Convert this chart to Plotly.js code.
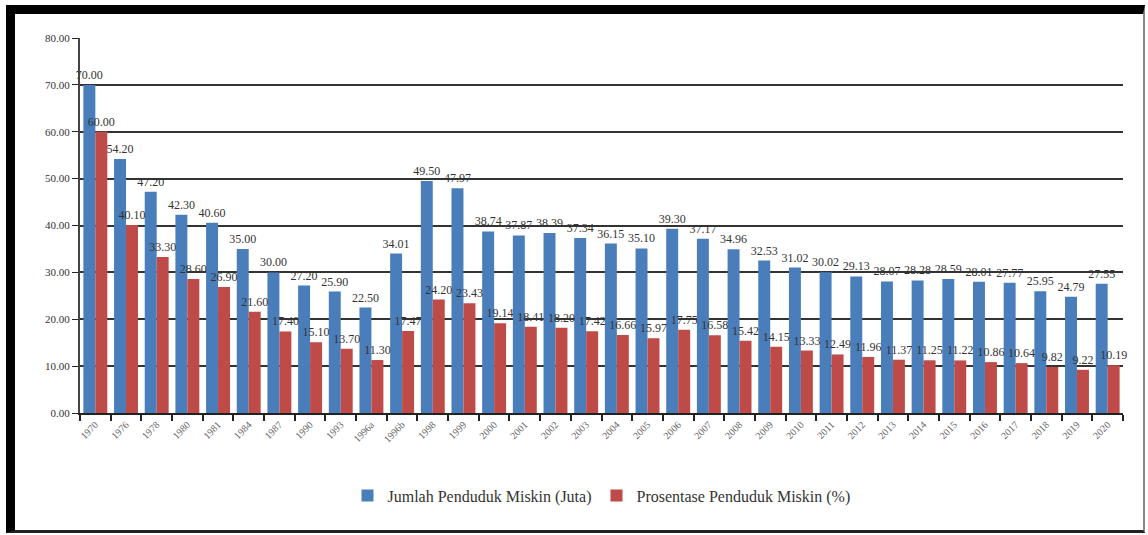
<!DOCTYPE html>
<html>
<head>
<meta charset="utf-8">
<script src="https://cdn.plot.ly/plotly-3.0.1.min.js"></script>
<style>
  html, body { margin: 0; padding: 0; background: #ffffff; }
  #wrap { position: relative; width: 1148px; height: 535px; overflow: hidden; }
  #frame { position: absolute; left: 6px; top: 5px; width: 1128px; height: 516px;
           border-top: 9px solid #000; border-left: 9px solid #000;
           border-bottom: 3px solid #222; border-right: 2px solid #888; }
  #chart { position: absolute; left: 0; top: 0; width: 1148px; height: 535px; }
</style>
</head>
<body>
<div id="wrap">
  <div id="frame"></div>
  <div id="chart"></div>
</div>
<script>
const years = ["1970","1976","1978","1980","1981","1984","1987","1990","1993","1996a","1996b","1998","1999","2000","2001","2002","2003","2004","2005","2006","2007","2008","2009","2010","2011","2012","2013","2014","2015","2016","2017","2018","2019","2020"];
const jumlah = [70.00,54.20,47.20,42.30,40.60,35.00,30.00,27.20,25.90,22.50,34.01,49.50,47.97,38.74,37.87,38.39,37.34,36.15,35.10,39.30,37.17,34.96,32.53,31.02,30.02,29.13,28.07,28.28,28.59,28.01,27.77,25.95,24.79,27.55];
const persen = [60.00,40.10,33.30,28.60,26.90,21.60,17.40,15.10,13.70,11.30,17.47,24.20,23.43,19.14,18.41,18.20,17.42,16.66,15.97,17.75,16.58,15.42,14.15,13.33,12.49,11.96,11.37,11.25,11.22,10.86,10.64,9.82,9.22,10.19];
const seriesNames = ["Jumlah Penduduk Miskin (Juta)", "Prosentase Penduduk Miskin (%)"];

const fontFam = 'Liberation Serif, Times New Roman, serif';
function bar(y, name, color) {
  return {
    type: 'bar', x: years, y: y, name: name,
    marker: { color: color },
    text: y.map(v => v.toFixed(2)),
    textposition: 'outside',
    constraintext: 'none',
    cliponaxis: false,
    textfont: { family: fontFam, size: 12, color: '#333' },
    hoverinfo: 'x+y'
  };
}
const data = [bar(jumlah, seriesNames[0], '#4a7ebb'), bar(persen, seriesNames[1], '#be4b48')];

const layout = {
  width: 1148, height: 535,
  margin: { l: 80, r: 25, t: 38, b: 122 },
  paper_bgcolor: 'rgba(0,0,0,0)',
  plot_bgcolor: '#ffffff',
  barmode: 'group', bargap: 0.22, bargroupgap: 0,
  font: { family: fontFam, color: '#333' },
  showlegend: true,
  legend: { orientation: 'h', x: 0.5, xanchor: 'center', y: -0.22, yanchor: 'middle',
            font: { family: fontFam, size: 16, color: '#333' }, itemwidth: 30 },
  xaxis: {
    type: 'category', tickangle: -45, tickson: 'boundaries',
    ticks: 'outside', ticklen: 6, tickcolor: '#222', tickwidth: 2,
    showline: true, linecolor: '#222', linewidth: 2,
    showgrid: false,
    tickfont: { family: fontFam, size: 10, color: '#666' }
  },
  yaxis: {
    range: [0, 80], dtick: 10, tickformat: '.2f',
    ticks: 'outside', ticklen: 6, tickcolor: '#222', tickwidth: 1,
    showline: true, linecolor: '#444', linewidth: 2,
    showgrid: true, gridcolor: '#333', gridwidth: 2,
    zeroline: false,
    tickfont: { family: fontFam, size: 11, color: '#333' }
  }
};
Plotly.newPlot('chart', data, layout, { displayModeBar: false, staticPlot: true });
</script>
</body>
</html>
